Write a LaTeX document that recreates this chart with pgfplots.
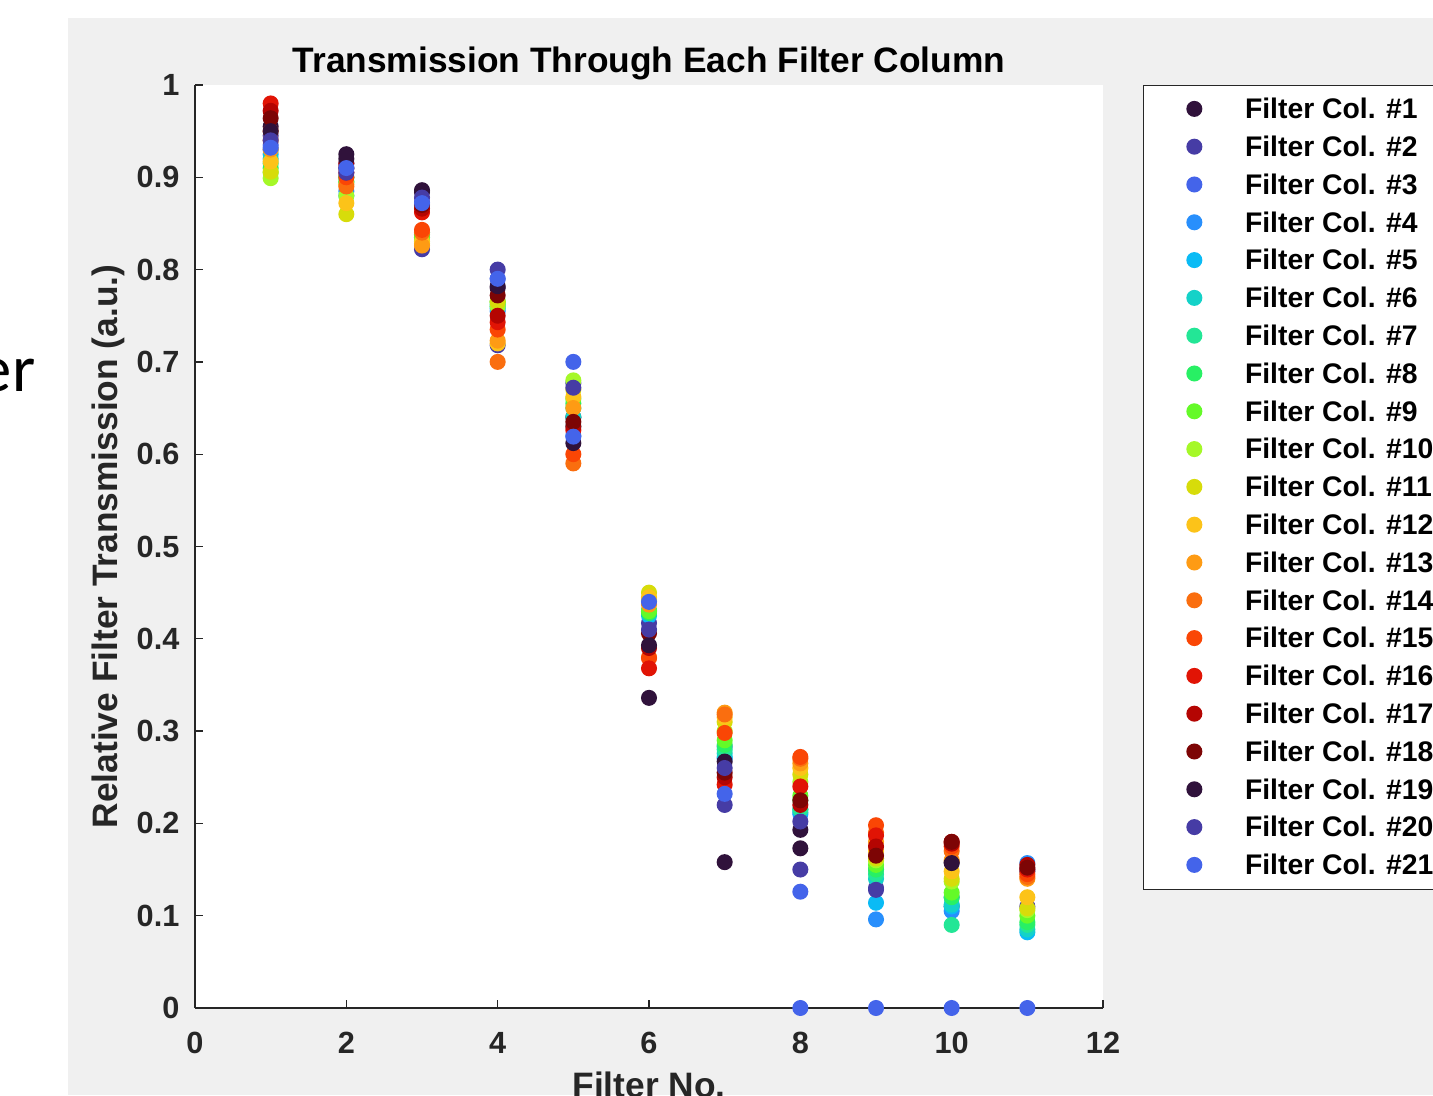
\documentclass[border=0pt]{standalone}
\usepackage{pgfplots}
\pgfplotsset{compat=1.18}
\usepackage{fontspec}
\setmainfont{Liberation Sans}
\newfontfamily\slidefont{Carlito}
\definecolor{bg}{RGB}{240,240,240}
\definecolor{axc}{RGB}{38,38,38}
\definecolor{c1}{RGB}{48,18,59}
\definecolor{c2}{RGB}{70,60,165}
\definecolor{c3}{RGB}{68,100,234}
\definecolor{c4}{RGB}{40,143,252}
\definecolor{c5}{RGB}{10,187,245}
\definecolor{c6}{RGB}{20,210,200}
\definecolor{c7}{RGB}{35,230,150}
\definecolor{c8}{RGB}{40,240,100}
\definecolor{c9}{RGB}{100,250,40}
\definecolor{c10}{RGB}{165,248,40}
\definecolor{c11}{RGB}{215,220,10}
\definecolor{c12}{RGB}{252,195,25}
\definecolor{c13}{RGB}{254,155,20}
\definecolor{c14}{RGB}{250,110,15}
\definecolor{c15}{RGB}{250,70,5}
\definecolor{c16}{RGB}{225,20,5}
\definecolor{c17}{RGB}{180,5,2}
\definecolor{c18}{RGB}{125,5,5}
\pgfplotsset{dot/.style={only marks, mark=*, mark size=2.2pt, color=#1, mark options={draw=none, fill=#1}}}
\begin{document}
\begin{tikzpicture}[x=1pt,y=1pt]
\useasboundingbox (0,0) rectangle (429.9,328.5);
\begin{scope}
\clip (0,0) rectangle (429.9,328.5);
\fill[bg] (20.4,0) rectangle (429.9,323.1);
\node[anchor=base east, inner sep=0pt, font=\slidefont\fontsize{20}{24}\selectfont] at (10.8,210.9) {er};
\begin{axis}[
    at={(58.5pt,26.1pt)}, anchor=south west,
    scale only axis, width=272.4pt, height=276.9pt,
    xmin=0, xmax=12, ymin=0, ymax=1,
    xtick={0,2,4,6,8,10,12},
    ytick={0,0.1,0.2,0.3,0.4,0.5,0.6,0.7,0.8,0.9,1},
    axis lines*=left,
    tick align=inside, major tick length=2.4pt,
    axis line style={axc, line width=0.4pt},
    tick style={axc, line width=0.4pt},
    axis background/.style={fill=white},
    clip=false,
    /pgf/number format/assume math mode=true,
    ticklabel style={font=\fontsize{9.2}{11}\selectfont\bfseries, text=axc},
    xticklabel style={anchor=base, yshift=-13.5pt},
    yticklabel style={anchor=east, inner xsep=0pt, xshift=-4.5pt},
    title={Transmission Through Each Filter Column},
    title style={at={(0.5,1)}, anchor=base, yshift=-2.4pt, font=\fontsize{10.6}{12}\selectfont\bfseries},
    xlabel={Filter No.},
    xlabel style={at={(axis description cs:0.5,0)}, anchor=base, yshift=-26.7pt, font=\fontsize{10.6}{12}\selectfont\bfseries, text=axc},
    ylabel={Relative Filter Transmission (a.u.)},
    ylabel style={at={(axis description cs:-0.0958,0.5)}, anchor=center, font=\fontsize{10.6}{12}\selectfont\bfseries, text=axc},
    legend style={at={(rel axis cs:1,1)}, anchor=north west, xshift=12pt,
        draw=axc, line width=0.4pt, fill=white,
        inner xsep=6pt, inner ysep=1.5pt, row sep=0pt,
        font=\fontsize{8.5}{10}\selectfont\bfseries,
        nodes={inner xsep=0pt, inner ysep=0pt, text height=8.4pt, text depth=2.94pt, anchor=west}},
    legend image code/.code={\draw[#1] plot coordinates {(9pt,0.2pt)}; \path (0pt,0pt) (24pt,0pt);},
]
\addplot[dot=c1] coordinates {(1,0.955) (2,0.925) (3,0.886) (4,0.78) (5,0.64) (6,0.336) (7,0.158) (8,0.193) (9,0.162) (10,0.158) (11,0.148)};
\addlegendentry{Filter Col. \#1}
\addplot[dot=c2] coordinates {(1,0.945) (2,0.915) (3,0.822) (4,0.718) (5,0.677) (6,0.417) (7,0.22) (8,0.15) (9,0.13) (10,0.11) (11,0.11)};
\addlegendentry{Filter Col. \#2}
\addplot[dot=c3] coordinates {(1,0.935) (2,0.91) (3,0.873) (4,0.79) (5,0.70) (6,0.442) (7,0.283) (8,0.126) (9,0.15) (10,0.12) (11,0.15)};
\addlegendentry{Filter Col. \#3}
\addplot[dot=c4] coordinates {(1,0.93) (2,0.885) (3,0.83) (4,0.755) (5,0.62) (6,0.43) (7,0.27) (8,0.21) (9,0.096) (10,0.105) (11,0.157)};
\addlegendentry{Filter Col. \#4}
\addplot[dot=c5] coordinates {(1,0.925) (2,0.88) (3,0.835) (4,0.758) (5,0.63) (6,0.425) (7,0.272) (8,0.212) (9,0.114) (10,0.11) (11,0.082)};
\addlegendentry{Filter Col. \#5}
\addplot[dot=c6] coordinates {(1,0.92) (2,0.895) (3,0.84) (4,0.76) (5,0.64) (6,0.43) (7,0.276) (8,0.215) (9,0.14) (10,0.112) (11,0.085)};
\addlegendentry{Filter Col. \#6}
\addplot[dot=c7] coordinates {(1,0.915) (2,0.9) (3,0.84) (4,0.762) (5,0.65) (6,0.43) (7,0.28) (8,0.215) (9,0.145) (10,0.09) (11,0.09)};
\addlegendentry{Filter Col. \#7}
\addplot[dot=c8] coordinates {(1,0.91) (2,0.9) (3,0.838) (4,0.765) (5,0.655) (6,0.428) (7,0.285) (8,0.225) (9,0.15) (10,0.12) (11,0.093)};
\addlegendentry{Filter Col. \#8}
\addplot[dot=c9] coordinates {(1,0.905) (2,0.895) (3,0.835) (4,0.765) (5,0.66) (6,0.43) (7,0.29) (8,0.23) (9,0.155) (10,0.125) (11,0.1)};
\addlegendentry{Filter Col. \#9}
\addplot[dot=c10] coordinates {(1,0.899) (2,0.88) (3,0.83) (4,0.76) (5,0.68) (6,0.44) (7,0.3) (8,0.245) (9,0.16) (10,0.137) (11,0.106)};
\addlegendentry{Filter Col. \#10}
\addplot[dot=c11] coordinates {(1,0.906) (2,0.86) (3,0.828) (4,0.765) (5,0.67) (6,0.45) (7,0.31) (8,0.253) (9,0.162) (10,0.14) (11,0.108)};
\addlegendentry{Filter Col. \#11}
\addplot[dot=c12] coordinates {(1,0.917) (2,0.872) (3,0.83) (4,0.72) (5,0.662) (6,0.445) (7,0.315) (8,0.26) (9,0.17) (10,0.148) (11,0.12)};
\addlegendentry{Filter Col. \#12}
\addplot[dot=c13] coordinates {(1,0.93) (2,0.892) (3,0.826) (4,0.723) (5,0.65) (6,0.437) (7,0.32) (8,0.265) (9,0.18) (10,0.16) (11,0.14)};
\addlegendentry{Filter Col. \#13}
\addplot[dot=c14] coordinates {(1,0.94) (2,0.89) (3,0.84) (4,0.70) (5,0.59) (6,0.38) (7,0.318) (8,0.27) (9,0.19) (10,0.17) (11,0.142)};
\addlegendentry{Filter Col. \#14}
\addplot[dot=c15] coordinates {(1,0.95) (2,0.9) (3,0.843) (4,0.735) (5,0.6) (6,0.379) (7,0.298) (8,0.272) (9,0.198) (10,0.175) (11,0.145)};
\addlegendentry{Filter Col. \#15}
\addplot[dot=c16] coordinates {(1,0.98) (2,0.905) (3,0.862) (4,0.743) (5,0.626) (6,0.368) (7,0.242) (8,0.24) (9,0.187) (10,0.18) (11,0.15)};
\addlegendentry{Filter Col. \#16}
\addplot[dot=c17] coordinates {(1,0.972) (2,0.915) (3,0.866) (4,0.75) (5,0.63) (6,0.39) (7,0.25) (8,0.22) (9,0.175) (10,0.178) (11,0.155)};
\addlegendentry{Filter Col. \#17}
\addplot[dot=c18] coordinates {(1,0.964) (2,0.91) (3,0.87) (4,0.772) (5,0.635) (6,0.406) (7,0.255) (8,0.225) (9,0.165) (10,0.18) (11,0.152)};
\addlegendentry{Filter Col. \#18}
\addplot[dot=c1] coordinates {(1,0.95) (2,0.92) (3,0.884) (4,0.782) (5,0.612) (6,0.393) (7,0.267) (8,0.173) (10,0.157)};
\addlegendentry{Filter Col. \#19}
\addplot[dot=c2] coordinates {(1,0.94) (2,0.905) (3,0.878) (4,0.80) (5,0.672) (6,0.41) (7,0.26) (8,0.202) (9,0.128)};
\addlegendentry{Filter Col. \#20}
\addplot[dot=c3] coordinates {(1,0.932) (2,0.91) (3,0.872) (4,0.79) (5,0.619) (6,0.44) (7,0.232) (8,0.0) (9,0.0) (10,0.0) (11,0.0)};
\addlegendentry{Filter Col. \#21}
\end{axis}
\end{scope}
\end{tikzpicture}
\end{document}
